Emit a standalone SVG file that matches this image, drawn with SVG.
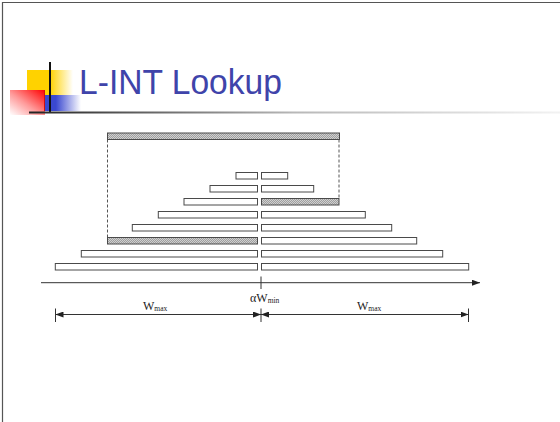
<svg xmlns="http://www.w3.org/2000/svg" width="560" height="422" viewBox="0 0 560 422">
  <style>
    .bar { fill: #ffffff; stroke: #4a4a4a; stroke-width: 1; }
    .hatch { fill: url(#hatch); stroke: #4a4a4a; stroke-width: 1; }
    .dash { stroke: #555; stroke-width: 1; stroke-dasharray: 3 2; fill: none; }
    .line { stroke: #333; stroke-width: 1; fill: none; }
    .lbl { font-family: "Liberation Serif", "Times New Roman", serif; fill: #222; }
    .title { font-family: "Liberation Sans", Arial, sans-serif; font-size: 35px; fill: #3f44aa; }
  </style>
  <defs>
    <pattern id="hatch" patternUnits="userSpaceOnUse" width="2" height="2">
      <rect width="2" height="2" fill="#d0d0d0"/>
      <path d="M0,2 L2,0" stroke="#8a8a8a" stroke-width="0.7"/>
    </pattern>
    <linearGradient id="gYellow" x1="0" y1="0" x2="1" y2="0">
      <stop offset="0" stop-color="#ffd200"/>
      <stop offset="0.5" stop-color="#ffd200"/>
      <stop offset="1" stop-color="#ffffff"/>
    </linearGradient>
    <linearGradient id="gBlue" x1="0" y1="0" x2="1" y2="0">
      <stop offset="0" stop-color="#3a48d0"/>
      <stop offset="0.3" stop-color="#3a48d0"/>
      <stop offset="1" stop-color="#ffffff"/>
    </linearGradient>
    <linearGradient id="gRed" x1="0" y1="1" x2="1" y2="0">
      <stop offset="0" stop-color="#ffffff"/>
      <stop offset="0.45" stop-color="#ff9a9a"/>
      <stop offset="1" stop-color="#ff0000"/>
    </linearGradient>
    <linearGradient id="gRule" x1="0" y1="0" x2="1" y2="0">
      <stop offset="0" stop-color="#222"/>
      <stop offset="0.5" stop-color="#b8b8b8"/>
      <stop offset="1" stop-color="#f2f2f2"/>
    </linearGradient>
    <marker id="arr" viewBox="0 0 8 6" refX="8" refY="3" markerWidth="8" markerHeight="6" markerUnits="userSpaceOnUse" orient="auto">
      <path d="M0,0 L8,3 L0,6 z" fill="#222"/>
    </marker>
  </defs>

  <!-- page frame -->
  <path d="M2.5,422 V2.5 H560" fill="none" stroke="#555" stroke-width="1.2"/>

  <!-- title block -->
  <g id="title-emblem">
    <rect x="27" y="70" width="46" height="25" fill="url(#gYellow)"/>
    <rect x="45" y="95" width="36" height="16" fill="url(#gBlue)"/>
    <rect x="10" y="90" width="35" height="25" fill="url(#gRed)"/>
    <line x1="44.5" y1="90" x2="44.5" y2="111" stroke="#d01010" stroke-width="1"/>
    <line x1="50" y1="62" x2="50" y2="112" stroke="#111" stroke-width="2"/>
    <rect x="29" y="111.5" width="531" height="2" fill="url(#gRule)"/>
  </g>
  <g id="title">
    <text class="title" x="79" y="94" textLength="203" lengthAdjust="spacingAndGlyphs">L-INT Lookup</text>
  </g>

  <!-- search window bar -->
  <g id="window-bar">
    <rect class="hatch" x="107.5" y="133" width="232" height="6.5"/>
  </g>

  <!-- dashed window edges, axis and dimension lines -->
  <g id="connectors">
    <line class="dash" x1="107.5" y1="139.5" x2="107.5" y2="237.5"/>
    <line class="dash" x1="339" y1="139.5" x2="339" y2="198.5"/>
    <line class="line" x1="41" y1="282.7" x2="480" y2="282.7" marker-end="url(#arr)"/>
    <line class="line" x1="261" y1="276.5" x2="261" y2="289"/>
    <line class="line" x1="55.5" y1="308.5" x2="55.5" y2="322"/>
    <line class="line" x1="261" y1="308.5" x2="261" y2="322"/>
    <line class="line" x1="468.5" y1="308.5" x2="468.5" y2="322"/>
    <line class="line" x1="158" y1="314.5" x2="55.5" y2="314.5" marker-end="url(#arr)"/>
    <line class="line" x1="158" y1="314.5" x2="261" y2="314.5" marker-end="url(#arr)"/>
    <line class="line" x1="365" y1="314.5" x2="261" y2="314.5" marker-end="url(#arr)"/>
    <line class="line" x1="365" y1="314.5" x2="468.5" y2="314.5" marker-end="url(#arr)"/>
  </g>

  <!-- left-side intervals -->
  <g id="left-bars">
    <rect class="bar" x="236" y="172.5" width="21.5" height="6.5"/>
    <rect class="bar" x="210" y="185.5" width="47.5" height="6.5"/>
    <rect class="bar" x="184" y="198.5" width="73.5" height="6.5"/>
    <rect class="bar" x="158.3" y="211.5" width="99.2" height="6.5"/>
    <rect class="bar" x="132.3" y="224.5" width="125.2" height="6.5"/>
    <rect class="hatch" x="107.5" y="237.5" width="150" height="6.5"/>
    <rect class="bar" x="81.3" y="250.5" width="176.2" height="6.5"/>
    <rect class="bar" x="55.3" y="263.5" width="202.2" height="6.5"/>
  </g>

  <!-- right-side intervals -->
  <g id="right-bars">
    <rect class="bar" x="261.5" y="172.5" width="26.2" height="6.5"/>
    <rect class="bar" x="261.5" y="185.5" width="52.2" height="6.5"/>
    <rect class="hatch" x="261.5" y="198.5" width="77.5" height="6.5"/>
    <rect class="bar" x="261.5" y="211.5" width="103.8" height="6.5"/>
    <rect class="bar" x="261.5" y="224.5" width="130.2" height="6.5"/>
    <rect class="bar" x="261.5" y="237.5" width="155.2" height="6.5"/>
    <rect class="bar" x="261.5" y="250.5" width="181.2" height="6.5"/>
    <rect class="bar" x="261.5" y="263.5" width="207.2" height="6.5"/>
  </g>

  <!-- labels -->
  <g id="label-alpha-wmin">
    <text class="lbl" x="250" y="301.5" font-size="12">αW<tspan font-size="7.5" dy="1.5">min</tspan></text>
  </g>
  <g id="label-wmax-left">
    <text class="lbl" x="143" y="309.5" font-size="12">W<tspan font-size="7.5" dy="1.5">max</tspan></text>
  </g>
  <g id="label-wmax-right">
    <text class="lbl" x="357" y="309.5" font-size="12">W<tspan font-size="7.5" dy="1.5">max</tspan></text>
  </g>
</svg>
